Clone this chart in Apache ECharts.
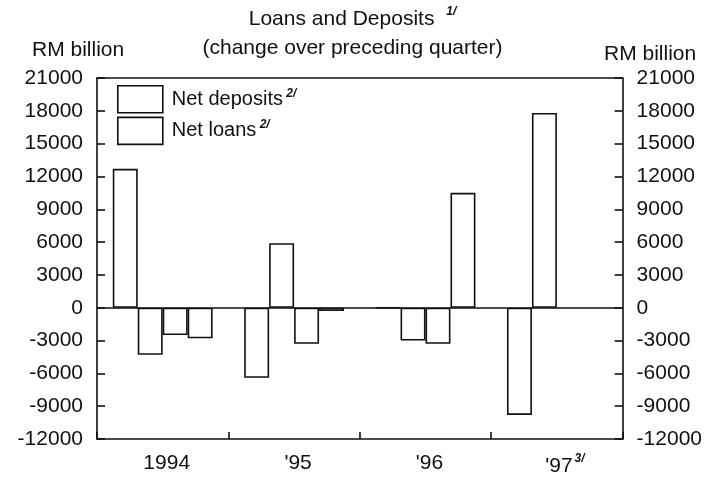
<!DOCTYPE html>
<html>
<head>
<meta charset="utf-8">
<script src="https://cdn.jsdelivr.net/npm/echarts@6/dist/echarts.min.js"></script>
<style>
html, body { margin: 0; padding: 0; background: #fff; }
#chart { width: 705px; height: 477px; }
</style>
</head>
<body>
<div id="chart"></div>
<script>
// years on the x axis, four quarterly bars per year (RM billion)
const years = ['1994', "'95", "'96", "'97"];
const depositsA = [12700, -6400, 0, -9800];
const loansA = [-4300, 5900, -3000, 17800];
const depositsB = [-2500, -3300, -3300, null];
const loansB = [-2800, -300, 10500, null];

const ink = '#111';
const font = 'Liberation Sans, Arial, sans-serif';
const lineW = 1.6;

const barStyle = { color: '#fff', borderColor: ink, borderWidth: lineW };

function barSeries(name, data) {
	return {
		name: name,
		type: 'bar',
		data: data,
		barGap: '0%',
		barCategoryGap: '24%',
		itemStyle: barStyle,
		silent: true
	};
}

const chart = echarts.init(document.getElementById('chart'));

function yAxisFor(pos) {
	return {
		type: 'value',
		position: pos,
		min: -12000,
		max: 21000,
		interval: 3000,
		splitLine: { show: false },
		axisLine: { show: true, onZero: false, lineStyle: { color: ink, width: lineW } },
		axisTick: { show: true, inside: true, length: 8, lineStyle: { color: ink, width: lineW } },
		axisLabel: { color: ink, fontSize: 21, fontFamily: font, margin: 14, formatter: v => String(v) }
	};
}

const series = [
	barSeries('Net deposits', depositsA),
	barSeries('Net loans', loansA),
	barSeries('Net deposits', depositsB),
	barSeries('Net loans', loansB)
];
// zero line across the plot
series[0].markLine = {
	silent: true,
	symbol: 'none',
	label: { show: false },
	lineStyle: { color: ink, width: lineW, type: 'solid' },
	data: [{ yAxis: 0 }]
};

const plainText = { fontSize: 21, fontWeight: 'normal', color: ink, fontFamily: font };

chart.setOption({
	animation: false,
	textStyle: { fontFamily: font, color: ink },
	title: [
		{
			text: 'Loans and Deposits {s|1/}',
			left: 'center',
			top: 6,
			padding: 0,
			textStyle: Object.assign({}, plainText, {
				rich: { s: { fontSize: 12, fontStyle: 'italic', fontWeight: 'bold', color: ink, padding: [0, 0, 14, 6] } }
			})
		},
		{ text: '(change over preceding quarter)', left: 'center', top: 38, padding: 0, textStyle: plainText },
		{ text: 'RM billion', left: 32, top: 40, padding: 0, textStyle: plainText },
		{ text: 'RM billion', left: 604, top: 44, padding: 0, textStyle: plainText }
	],
	legend: {
		data: ['Net deposits', 'Net loans'],
		orient: 'vertical',
		left: 117,
		top: 85,
		padding: 0,
		itemWidth: 45,
		itemHeight: 27,
		itemGap: 3,
		icon: 'rect',
		selectedMode: false,
		itemStyle: { color: '#fff', borderColor: ink, borderWidth: lineW },
		formatter: name => '{t|' + name + '} {s|2/}',
		textStyle: {
			padding: [0, 0, 0, 4],
			rich: {
				t: { fontSize: 20, color: ink, fontFamily: font },
				s: { fontSize: 12, fontStyle: 'italic', fontWeight: 'bold', color: ink, padding: [0, 0, 12, 0] }
			}
		}
	},
	grid: { left: 97, right: 80, top: 78, bottom: 38 },
	xAxis: [
		{
			type: 'category',
			data: years,
			position: 'bottom',
			axisLine: { show: true, onZero: false, lineStyle: { color: ink, width: lineW } },
			axisTick: { show: true, inside: true, length: 7, lineStyle: { color: ink, width: lineW } },
			axisLabel: {
				margin: 14,
				formatter: v => v === "'97" ? '{z|' + v + '}{s|3/}' : '{y|' + v + '}',
				rich: {
					y: { fontSize: 21, color: ink, fontFamily: font, padding: [0, 0, 0, 8] },
					z: { fontSize: 21, color: ink, fontFamily: font, padding: [0, 0, 0, 16] },
					s: { fontSize: 12, fontStyle: 'italic', fontWeight: 'bold', color: ink, padding: [0, 0, 14, 2] }
				}
			}
		},
		{
			// top frame line
			type: 'category',
			data: years,
			position: 'top',
			axisLine: { show: true, onZero: false, lineStyle: { color: ink, width: lineW } },
			axisTick: { show: false },
			axisLabel: { show: false }
		}
	],
	yAxis: [yAxisFor('left'), yAxisFor('right')],
	series: series
});
</script>
</body>
</html>
